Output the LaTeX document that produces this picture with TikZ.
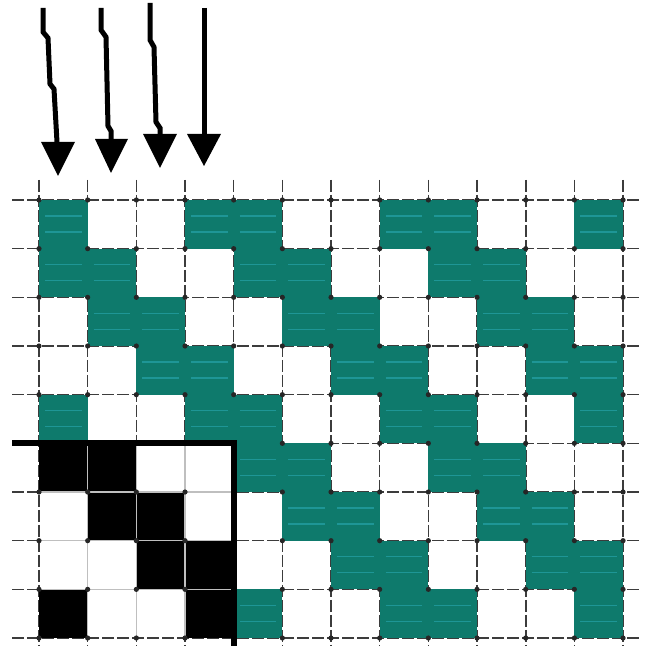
\documentclass[tikz,border=0pt]{standalone}
\definecolor{tealA}{RGB}{14,122,108}
\definecolor{tealB}{RGB}{30,150,150}
\definecolor{gridc}{RGB}{60,60,60}
\tikzset{
  gridline/.style={draw=gridc,line width=0.8pt,dash pattern=on 6pt off 1.5pt},
  shaft/.style={draw=black,line width=2.5pt,line join=miter},
  headtip/.style={fill=black},
  thick box/.style={draw=black,line width=2.6pt},
}
\begin{document}
\begin{tikzpicture}[x=0.5pt,y=-0.5pt]
\useasboundingbox (0,0) rectangle (660,646);
\fill[white] (0,0) rectangle (660,646);
% grid lines
\foreach \c in {0,...,12}{
  \draw[gridline] ({39+\c*48.67},180) -- ({39+\c*48.67},646);
}
\foreach \r in {0,...,9}{
  \draw[gridline] (12,{200+\r*48.67}) -- (642,{200+\r*48.67});
}
% cells
\foreach \r in {0,...,8}{
  \foreach \c in {0,...,11}{
    \pgfmathtruncatemacro\m{mod(\c-\r+12,4)}
    \pgfmathtruncatemacro\blk{and(\r>4,\c<4)}
    \ifnum\m=1\relax\else\ifnum\m=2\relax\else
      \ifnum\blk=1
        \fill[black] ({39+\c*48.67},{200+\r*48.67}) rectangle ({39+(\c+1)*48.67},{200+(\r+1)*48.67});
      \else
        \fill[tealA] ({39+\c*48.67},{200+\r*48.67}) rectangle ({39+(\c+1)*48.67},{200+(\r+1)*48.67});
        \draw[tealB,line width=0.8pt] ({39+\c*48.67+6},{200+\r*48.67+16}) -- ({39+(\c+1)*48.67-6},{200+\r*48.67+16});
        \draw[tealB,line width=0.8pt] ({39+\c*48.67+6},{200+\r*48.67+32}) -- ({39+(\c+1)*48.67-6},{200+\r*48.67+32});
      \fi
    \fi\fi
  }
}
% light lines inside black region
\foreach \c in {1,2,3}{
  \draw[gray!50,line width=0.6pt] ({39+\c*48.67},443) -- ({39+\c*48.67},638);
}
\foreach \r in {6,7,8}{
  \draw[gray!50,line width=0.6pt] (39,{200+\r*48.67}) -- (234,{200+\r*48.67});
}
% intersection dots
\foreach \c in {0,...,12}{
  \foreach \r in {0,...,9}{
    \fill[black!85] ({39+\c*48.67},{200+\r*48.67}) circle (1.3pt);
  }
}
% thick L outline
\draw[thick box] (12,443) -- (234,443) -- (234,646);
% arrows
\coordinate (a1s) at (43,8);
\coordinate (a1e) at (57,142);
\coordinate (a2s) at (101,8);
\coordinate (a2e) at (111,140);
\coordinate (a3s) at (150,3);
\coordinate (a3e) at (160,135);
\coordinate (a4s) at (204,8);
\coordinate (a4e) at (204,135);
\draw[shaft] (a1s) -- (43,32) -- (48,38) -- (50,84) -- (54,89) -- (a1e);
\draw[shaft] (a2s) -- (101,30) -- (106,37) -- (108,126) -- (111,131) -- (a2e);
\draw[shaft] (a3s) -- (150,40) -- (154,47) -- (156,122) -- (160,128) -- (a3e);
\draw[shaft] (a4s) -- (a4e);
\fill[headtip] (41,142) -- (75,142) -- (58,176) -- cycle;
\fill[headtip] (95,139) -- (128,139) -- (111,173) -- cycle;
\fill[headtip] (143,134) -- (177,134) -- (160,168) -- cycle;
\fill[headtip] (187,134) -- (221,134) -- (204,166) -- cycle;
\end{tikzpicture}
\end{document}
